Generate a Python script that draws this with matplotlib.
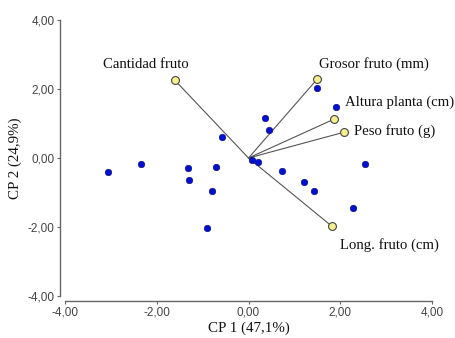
import matplotlib
matplotlib.use('agg')
import matplotlib.pyplot as plt

# Scores of the individuals (CP1, CP2).
score_x = [-3.07, -2.35, -1.31, -1.29, -0.70, -0.80, -0.91, -0.57, 0.35, 0.44,
           1.50, 1.91, 0.07, 0.20, 2.53, 0.74, 1.20, 1.42, 2.27]
score_y = [-0.41, -0.17, -0.29, -0.63, -0.25, -0.96, -2.03, 0.61, 1.17, 0.81,
           2.02, 1.48, -0.06, -0.12, -0.18, -0.38, -0.70, -0.97, -1.45]

# Variable vectors (loadings).
var_names = ['Cantidad fruto', 'Grosor fruto (mm)', 'Altura planta (cm)',
             'Peso fruto (g)', 'Long. fruto (cm)']
var_x = [-1.61, 1.50, 1.87, 2.09, 1.81]
var_y = [2.26, 2.29, 1.13, 0.75, -1.97]
label_x = [-2.24, 1.53, 2.11, 2.29, 2.00]
label_y = [2.70, 2.72, 1.62, 0.78, -2.52]
label_ha = ['center', 'left', 'left', 'left', 'left']

ticks = [-4, -2, 0, 2, 4]
tick_labels = ['-4,00', '-2,00', '0,00', '2,00', '4,00']

fig = plt.figure(figsize=(4.55, 3.38), dpi=100)
ax = fig.add_axes([65/455, 42/338, 367/455, 276/338])

for i in range(len(var_names)):
    ax.plot([0, var_x[i]], [0, var_y[i]], color='#555555', linewidth=0.8, zorder=2)

ax.scatter(score_x, score_y, s=22, color='#0010cc', edgecolors='#000080',
           linewidths=0.4, zorder=3)
ax.scatter(var_x, var_y, s=32, color='#f6f08c', edgecolors='#444444',
           linewidths=0.8, zorder=4)

for i in range(len(var_names)):
    ax.text(label_x[i], label_y[i], var_names[i], ha=label_ha[i], va='center',
            fontsize=10.6, family='Liberation Serif', color='#111111')

ax.set_xlim(-4, 4)
ax.set_ylim(-4, 4)
ax.set_xticks(ticks)
ax.set_xticklabels(tick_labels)
ax.set_yticks(ticks)
ax.set_yticklabels(tick_labels)

for s in ['top', 'right']:
    ax.spines[s].set_visible(False)
for s in ['left', 'bottom']:
    ax.spines[s].set_position(('outward', 3.6))
    ax.spines[s].set_color('#666666')
    ax.spines[s].set_linewidth(1.0)

ax.tick_params(direction='out', length=2.5, width=0.8, color='#666666',
               labelsize=8.5, labelcolor='#444444', pad=1.5)
for lab in ax.get_xticklabels() + ax.get_yticklabels():
    lab.set_family('Liberation Sans')

ax.set_xlabel('CP 1 (47,1%)', fontsize=10.8, family='Liberation Serif',
              color='#111111', labelpad=2)
ax.set_ylabel('CP 2 (24,9%)', fontsize=10.8, family='Liberation Serif',
              color='#111111', labelpad=4)

plt.savefig('out.png', dpi=100)
